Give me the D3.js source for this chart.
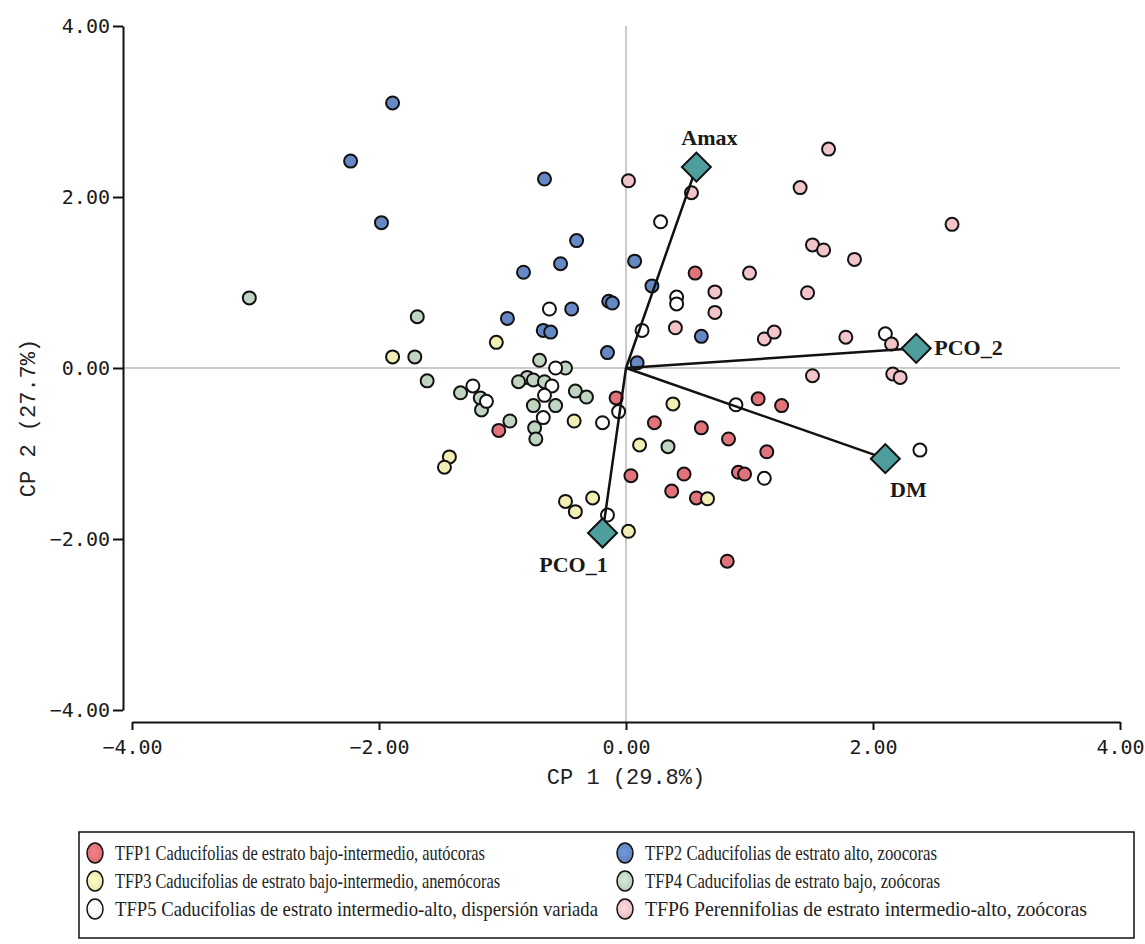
<!DOCTYPE html>
<html>
<head>
<meta charset="utf-8">
<script src="https://cdn.jsdelivr.net/npm/d3@7"></script>
<style>
  body { margin: 0; background: #fff; }
</style>
</head>
<body>
<svg id="chart" width="1145" height="944"></svg>
<script>
// ticks on both axes
const xTicks = [-4, -2, 0, 2, 4];
const yTicks = [-4, -2, 0, 2, 4];

// functional groups (legend labels)
const groupIds = ["TFP1", "TFP2", "TFP3", "TFP4", "TFP5", "TFP6"];
const groupLabels = [
  "TFP1 Caducifolias de estrato bajo-intermedio, autócoras",
  "TFP2 Caducifolias de estrato alto, zoocoras",
  "TFP3 Caducifolias de estrato bajo-intermedio, anemócoras",
  "TFP4 Caducifolias de estrato bajo, zoócoras",
  "TFP5 Caducifolias de estrato intermedio-alto, dispersión variada",
  "TFP6 Perennifolias de estrato intermedio-alto, zoócoras"
];

// species scores [CP1, CP2] per group
const tfp1 = [[-1.03,-0.73],[-0.08,-0.35],[0.23,-0.64],[0.61,-0.70],[1.07,-0.36],[1.26,-0.44],
  [0.83,-0.83],[1.14,-0.98],[0.04,-1.26],[0.47,-1.24],[0.91,-1.22],[0.96,-1.24],
  [0.37,-1.44],[0.57,-1.52],[0.82,-2.26],[0.56,1.11]];
const tfp2 = [[-1.89,3.10],[-2.23,2.42],[-1.98,1.70],[-0.66,2.21],[-0.40,1.49],[-0.53,1.22],
  [-0.83,1.12],[0.07,1.25],[0.21,0.96],[-0.14,0.78],[-0.11,0.76],[-0.44,0.69],
  [-0.96,0.58],[-0.67,0.44],[-0.61,0.42],[0.61,0.37],[-0.15,0.18],[0.09,0.06]];
const tfp3 = [[-1.89,0.13],[-1.05,0.30],[-1.43,-1.04],[-1.47,-1.16],[-0.42,-0.62],[0.38,-0.42],
  [0.11,-0.90],[-0.49,-1.56],[-0.27,-1.52],[-0.41,-1.68],[0.02,-1.91],[0.66,-1.53]];
const tfp4 = [[-3.05,0.82],[-1.69,0.60],[-1.71,0.13],[-1.61,-0.15],[-1.34,-0.29],[-1.18,-0.35],
  [-1.17,-0.49],[-0.94,-0.62],[-0.70,0.09],[-0.80,-0.11],[-0.87,-0.16],[-0.75,-0.14],
  [-0.66,-0.16],[-0.75,-0.44],[-0.74,-0.70],[-0.73,-0.83],[-0.41,-0.27],[-0.32,-0.34],
  [-0.49,0.00],[0.34,-0.92],[-0.57,-0.44]];
const tfp5 = [[-1.24,-0.21],[-1.13,-0.39],[-0.57,0.00],[-0.60,-0.21],[-0.66,-0.32],[-0.67,-0.58],
  [-0.62,0.69],[0.28,1.71],[0.41,0.83],[0.41,0.75],[0.13,0.44],[-0.06,-0.51],
  [-0.19,-0.64],[0.89,-0.43],[1.12,-1.29],[2.38,-0.96],[2.10,0.40],[-0.15,-1.72]];
const tfp6 = [[0.02,2.19],[0.53,2.05],[1.00,1.11],[0.72,0.89],[0.72,0.65],[0.40,0.47],
  [1.12,0.34],[1.20,0.42],[1.64,2.56],[1.41,2.11],[2.64,1.68],[1.51,1.44],[1.60,1.38],
  [1.85,1.27],[1.47,0.88],[1.78,0.36],[2.15,0.28],[1.51,-0.09],[2.16,-0.07],[2.22,-0.11]];
const groupPoints = [tfp1, tfp2, tfp3, tfp4, tfp5, tfp6];

// trait vectors
const vectorNames = ["Amax", "PCO_2", "DM", "PCO_1"];
const vectorX = [0.57, 2.35, 2.10, -0.19];
const vectorY = [2.35, 0.23, -1.06, -1.93];

const groupFill = ["#e2737a", "#6688c4", "#f2efb4", "#bfd5c2", "#ffffff", "#f3c5ca"];

const svg = d3.select("#chart");

const x = d3.scaleLinear().domain([-4, 4]).range([132, 1120]);
const y = d3.scaleLinear().domain([-4, 4]).range([710, 26]);

// gradients for the legend swatches
const defs = svg.append("defs");
groupFill.forEach((c, i) => {
  const g = defs.append("radialGradient").attr("id", "lg" + i)
    .attr("cx", "45%").attr("cy", "45%").attr("r", "60%");
  g.append("stop").attr("offset", "0%").attr("stop-color", d3.color(c).brighter(0.3));
  g.append("stop").attr("offset", "100%").attr("stop-color", d3.color(c).darker(0.15));
});

// reference lines through the origin
svg.append("line")
  .attr("x1", 123).attr("x2", x(4))
  .attr("y1", y(0)).attr("y2", y(0))
  .attr("stroke", "#cbcbcb").attr("stroke-width", 2);
svg.append("line")
  .attr("x1", x(0)).attr("x2", x(0))
  .attr("y1", y(4)).attr("y2", 722)
  .attr("stroke", "#cbcbcb").attr("stroke-width", 2);

// axes
const yAxis = svg.append("g")
  .attr("transform", "translate(123,0)")
  .call(d3.axisLeft(y).tickValues(yTicks).tickFormat(d3.format(".2f"))
    .tickSize(10).tickSizeOuter(0).tickPadding(3));
const xAxis = svg.append("g")
  .attr("transform", "translate(0,722)")
  .call(d3.axisBottom(x).tickValues(xTicks).tickFormat(d3.format(".2f"))
    .tickSize(8).tickSizeOuter(0).tickPadding(10));

[xAxis, yAxis].forEach(ax => {
  ax.select(".domain").attr("stroke", "#111").attr("stroke-width", 2);
  ax.selectAll(".tick line").attr("stroke", "#111").attr("stroke-width", 2);
  ax.selectAll("text")
    .attr("fill", "#1a1a1a")
    .style("font-family", "'DejaVu Sans Mono', monospace")
    .style("font-size", "20px");
});

svg.append("text")
  .attr("x", x(0)).attr("y", 784)
  .attr("text-anchor", "middle")
  .style("font-family", "'Liberation Mono', monospace")
  .style("font-size", "22px")
  .attr("fill", "#222")
  .text("CP 1 (29.8%)");

svg.append("text")
  .attr("transform", "translate(35,418) rotate(-90)")
  .attr("text-anchor", "middle")
  .style("font-family", "'Liberation Mono', monospace")
  .style("font-size", "22px")
  .attr("fill", "#222")
  .text("CP 2 (27.7%)");

// species points
groupPoints.forEach((pts, gi) => {
  svg.append("g").selectAll("circle")
    .data(pts)
    .enter()
    .append("circle")
      .attr("cx", d => x(d[0]))
      .attr("cy", d => y(d[1]))
      .attr("r", 6.5)
      .attr("fill", groupFill[gi])
      .attr("stroke", "#111")
      .attr("stroke-width", 2);
});

// biplot vectors
const vecs = vectorNames.map((n, i) => ({ name: n, vx: vectorX[i], vy: vectorY[i] }));

svg.append("g").selectAll("line")
  .data(vecs)
  .enter()
  .append("line")
    .attr("x1", x(0)).attr("y1", y(0))
    .attr("x2", d => x(d.vx)).attr("y2", d => y(d.vy))
    .attr("stroke", "#111")
    .attr("stroke-width", 2.5);

svg.append("g").selectAll("path")
  .data(vecs)
  .enter()
  .append("path")
    .attr("d", d3.symbol().type(d3.symbolSquare).size(420))
    .attr("transform", d => `translate(${x(d.vx)},${y(d.vy)}) rotate(45)`)
    .attr("fill", "#4f9e9e")
    .attr("stroke", "#111")
    .attr("stroke-width", 2);

// label placement relative to each diamond
const labelOffsets = { Amax: [13, -22, "middle"], PCO_2: [18, 7, "start"], DM: [23, 38, "middle"], PCO_1: [-29, 39, "middle"] };

svg.append("g").selectAll("text")
  .data(vecs)
  .enter()
  .append("text")
    .attr("x", d => x(d.vx) + labelOffsets[d.name][0])
    .attr("y", d => y(d.vy) + labelOffsets[d.name][1])
    .attr("text-anchor", d => labelOffsets[d.name][2])
    .style("font-family", "'Liberation Serif', serif")
    .style("font-weight", "bold")
    .style("font-size", "22px")
    .attr("fill", "#1a1a1a")
    .text(d => d.name);

// legend
svg.append("rect")
  .attr("x", 79).attr("y", 832)
  .attr("width", 1055).attr("height", 106)
  .attr("fill", "none")
  .attr("stroke", "#111")
  .attr("stroke-width", 1.5);

// left column: TFP1, TFP3, TFP5 ; right column: TFP2, TFP4, TFP6
const legendWidths = [370, 292, 385, 295, 483, 442];
groupIds.forEach((id, i) => {
  const col = i % 2, row = Math.floor(i / 2);
  const mx = col === 0 ? 95 : 625;
  const my = 853 + row * 28;
  svg.append("ellipse")
    .attr("cx", mx).attr("cy", my)
    .attr("rx", 8).attr("ry", 10)
    .attr("fill", `url(#lg${i})`)
    .attr("stroke", "#111")
    .attr("stroke-width", 1.5);
  svg.append("text")
    .attr("x", mx + 20).attr("y", my + 7)
    .attr("textLength", legendWidths[i])
    .attr("lengthAdjust", "spacingAndGlyphs")
    .style("font-family", "'Liberation Serif', serif")
    .style("font-size", "21px")
    .attr("fill", "#222")
    .text(groupLabels[i]);
});
</script>
</body>
</html>
